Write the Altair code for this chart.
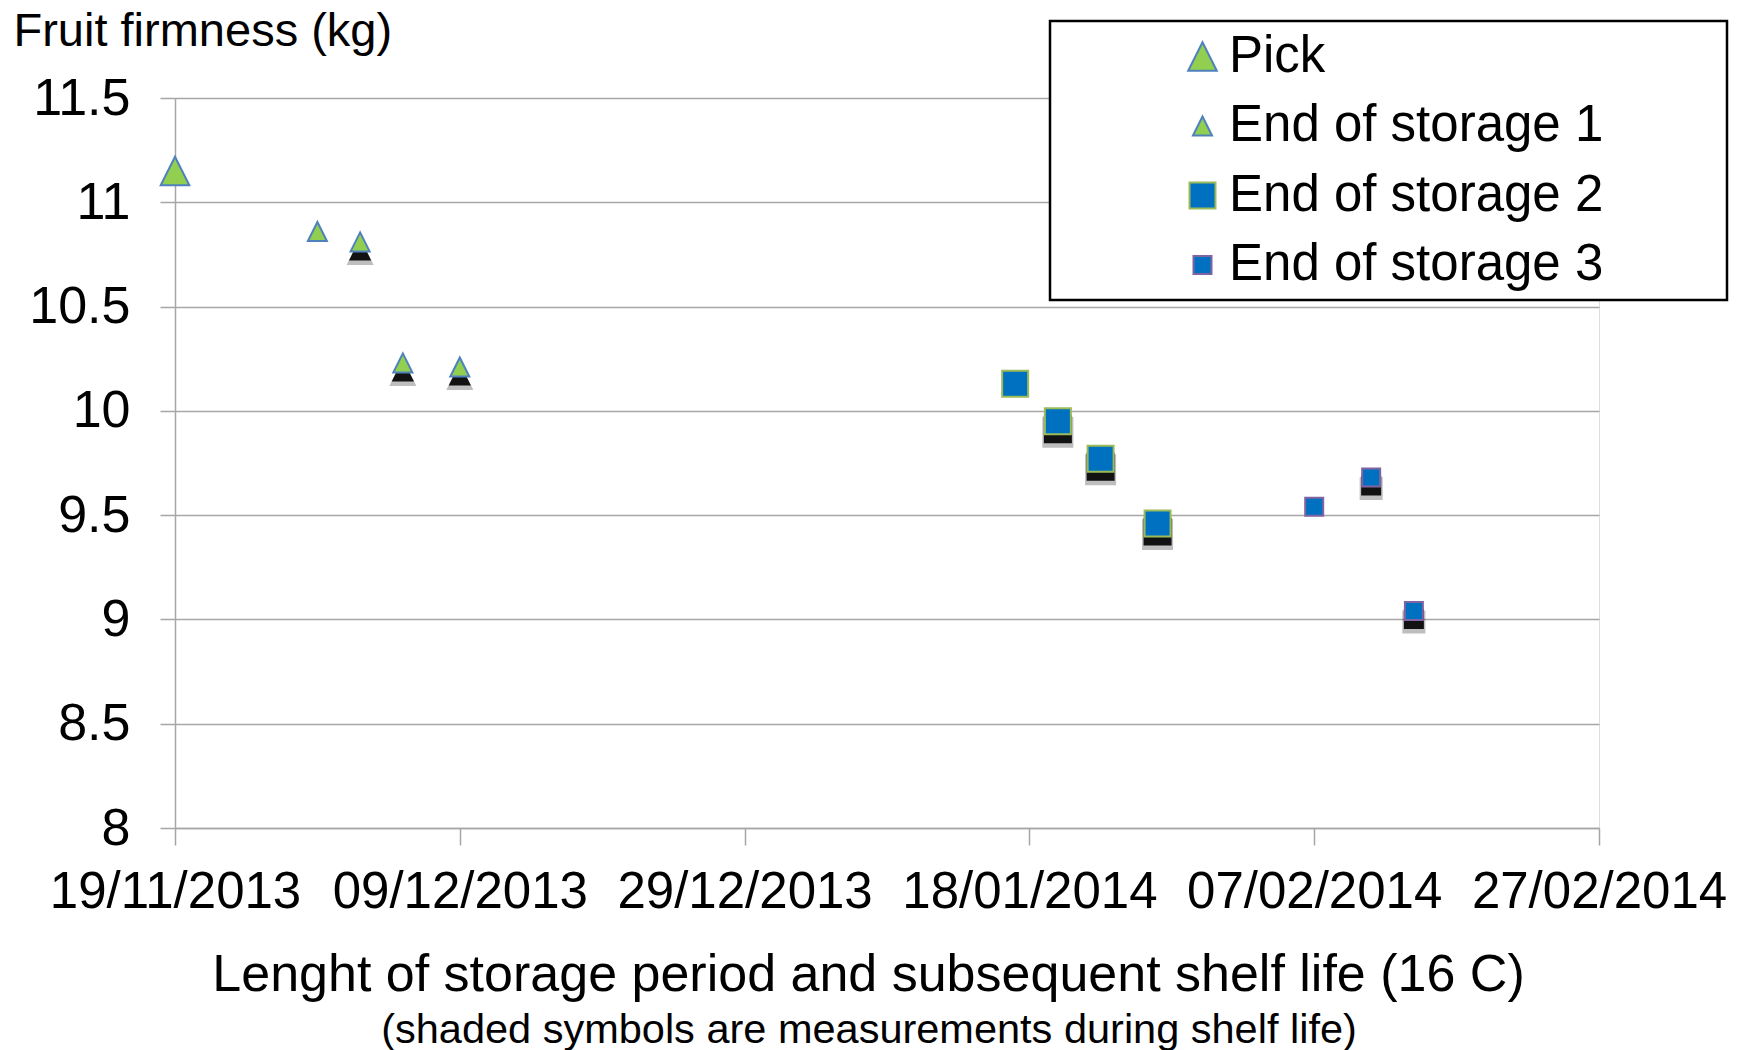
import altair as alt
import pandas as pd

FONT = "Liberation Sans"
GREY = "#A6A6A6"

# ---------------- data ----------------
series_names = ["Pick", "End of storage 1", "End of storage 2", "End of storage 3"]

pick_dates = ["2013-11-19"]
pick_values = [11.15]
pick_shaded = [False]

s1_dates = ["2013-11-29", "2013-12-02", "2013-12-05", "2013-12-09"]
s1_values = [10.86, 10.81, 10.23, 10.21]
s1_shaded = [False, True, True, True]

s2_dates = ["2014-01-17", "2014-01-20", "2014-01-23", "2014-01-27"]
s2_values = [10.13, 9.95, 9.77, 9.46]
s2_shaded = [False, True, True, True]

s3_dates = ["2014-02-07", "2014-02-11", "2014-02-14"]
s3_values = [9.54, 9.68, 9.04]
s3_shaded = [False, True, True]

x_tick_dates = [(2013, 11, 19), (2013, 12, 9), (2013, 12, 29),
                (2014, 1, 18), (2014, 2, 7), (2014, 2, 27)]
y_ticks = [8, 8.5, 9, 9.5, 10, 10.5, 11, 11.5]

rows = []
for name, dates, vals, shaded in [
    ("Pick", pick_dates, pick_values, pick_shaded),
    ("End of storage 1", s1_dates, s1_values, s1_shaded),
    ("End of storage 2", s2_dates, s2_values, s2_shaded),
    ("End of storage 3", s3_dates, s3_values, s3_shaded),
]:
    for d, v, s in zip(dates, vals, shaded):
        rows.append({"series": name, "date": d, "value": v, "shaded": s})
df = pd.DataFrame(rows)

# ---------------- styles ----------------
TRI = "M0,-1L1,1L-1,1Z"
shape_range = [TRI, TRI, "square", "square"]
size_range = [820, 361, 676, 324]
fill_range = ["#92CF50", "#92CF50", "#0070C0", "#0070C0"]
stroke_range = ["#4F81BD", "#4F81BD", "#9BBB59", "#8064A2"]


def dt(t):
    return alt.DateTime(year=t[0], month=t[1], date=t[2], utc=True)


# trailing non-breaking spaces widen the legend frame; the zero-width char keeps them from being trimmed
pad_chars = "\u00a0" * 8 + "\u200b"
legend = alt.Legend(
    title=None, orient="none", legendX=875, legendY=-77,
    padding=10, rowPadding=17.5, fillColor="white", strokeColor="black",
    labelFont=FONT, labelFontSize=51, labelColor="black", labelLimit=1200,
    symbolOffset=117, labelOffset=1, symbolStrokeWidth=2, symbolOpacity=1,
    labelExpr="datum.label + '" + pad_chars + "'",
)

x_enc = alt.X(
    "date:T",
    scale=alt.Scale(type="utc", domain=[dt(x_tick_dates[0]), dt(x_tick_dates[-1])]),
    axis=alt.Axis(
        values=[dt(t) for t in x_tick_dates], format="%d/%m/%Y",
        grid=False, tickSize=17, tickColor=GREY, tickWidth=1.5,
        domainColor=GREY, domainWidth=1.5,
        labelFont=FONT, labelFontSize=51, labelColor="black", labelPadding=22,
        labelFlush=False, labelOverlap=False, labelLimit=0,
        title="Lenght of storage period and subsequent shelf life (16 C)",
        titleFont=FONT, titleFontSize=52, titleFontWeight="normal", titleColor="black",
        titleX=693, titleY=162, titleAlign="center", titleBaseline="alphabetic",
    ),
)
y_enc = alt.Y(
    "value:Q",
    scale=alt.Scale(domain=[8, 11.5], nice=False, zero=False),
    axis=alt.Axis(
        values=y_ticks, format="~g",
        grid=True, gridColor=GREY, gridWidth=1.5,
        tickSize=15, tickColor=GREY, tickWidth=1.5,
        domainColor=GREY, domainWidth=1.5,
        labelFont=FONT, labelFontSize=52, labelColor="black", labelPadding=30,
        title="Fruit firmness (kg)",
        titleFont=FONT, titleFontSize=47, titleFontWeight="normal", titleColor="black",
        titleAngle=0, titleAlign="left", titleBaseline="alphabetic",
        titleX=-162, titleY=-53,
    ),
)

shape_enc = alt.Shape("series:N", scale=alt.Scale(domain=series_names, range=shape_range), legend=legend)
size_enc = alt.Size("series:N", scale=alt.Scale(type="ordinal", domain=series_names, range=size_range), legend=legend)
fill_enc = alt.Fill("series:N", scale=alt.Scale(domain=series_names, range=fill_range), legend=legend)
stroke_enc = alt.Stroke("series:N", scale=alt.Scale(domain=series_names, range=stroke_range), legend=legend)

base = alt.Chart(df)
shaded_only = base.transform_filter("datum.shaded")

shadow_soft = shaded_only.mark_point(
    filled=True, fill="black", stroke="black", strokeWidth=5, opacity=0.25, yOffset=11
).encode(x=x_enc, y=y_enc, shape=shape_enc, size=size_enc)

shadow = shaded_only.mark_point(
    filled=True, fill="black", stroke="black", strokeWidth=2, opacity=0.9, yOffset=8
).encode(x=x_enc, y=y_enc, shape=shape_enc, size=size_enc)

points = base.mark_point(filled=True, opacity=1, strokeWidth=2).encode(
    x=x_enc, y=y_enc, shape=shape_enc, size=size_enc, fill=fill_enc, stroke=stroke_enc
)

chart = alt.layer(shadow_soft, shadow, points).properties(
    width=1424, height=730,
    autosize=alt.AutoSizeParams(type="none"),
    padding={"left": 167, "top": 90, "right": 140, "bottom": 222},
    title=alt.TitleParams(
        text="(shaded symbols are measurements during shelf life)",
        orient="bottom", anchor="middle", fontSize=41.5, fontWeight="normal",
        font=FONT, color="black", offset=10, dx=-18,
    ),
).configure_view(stroke=None).configure(background="white").configure_legend(strokeWidth=2.5)

chart.save("out.html", embed_options={"renderer": "svg", "actions": False})
